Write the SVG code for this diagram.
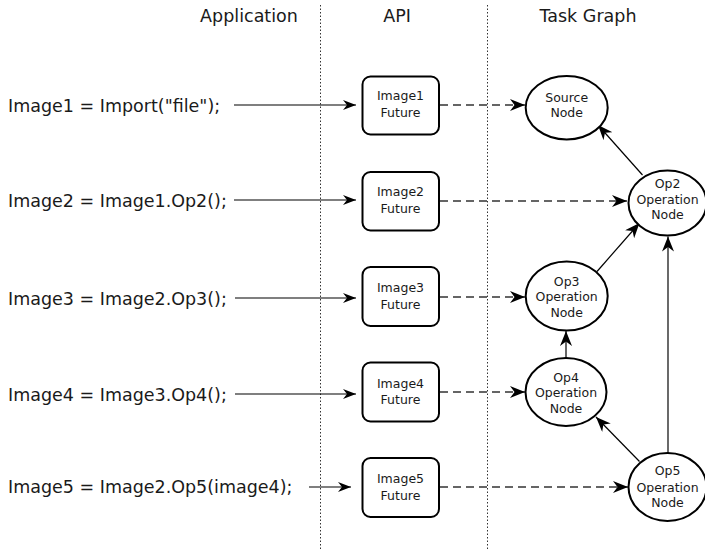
<svg xmlns="http://www.w3.org/2000/svg" width="705" height="554" viewBox="0 0 705 554">
<defs>
<style>
text{font-family:"DejaVu Sans","Liberation Sans",sans-serif;fill:#1a1a1a}
.hdr{font-size:17.5px;text-anchor:middle}
.code{font-size:17.5px}
.lbl{font-size:12.5px;text-anchor:middle}
.box{fill:#fff;stroke:#000;stroke-width:2}
.ell{fill:#fff;stroke:#000;stroke-width:2}
.sep{stroke:#333;stroke-width:1;stroke-dasharray:1.5,2;fill:none}
.call{stroke:#000;stroke-width:1.2;fill:none;marker-end:url(#ahS)}
.dash{stroke:#333;stroke-width:1.6;stroke-dasharray:8,5;fill:none;marker-end:url(#ahL)}
.dep{stroke:#000;stroke-width:1.2;fill:none;marker-end:url(#ahL)}
.dep2{stroke:#444;stroke-width:1.6;fill:none;marker-end:url(#ahL)}
</style>
<marker id="ahS" markerUnits="userSpaceOnUse" markerWidth="14" markerHeight="10" refX="13" refY="5" orient="auto">
<path d="M13,5 L0,0 L4,5 L0,10 Z" fill="#000" stroke="none"/>
</marker>
<marker id="ahL" markerUnits="userSpaceOnUse" markerWidth="16" markerHeight="12" refX="15" refY="6" orient="auto">
<path d="M15,6 L0,0 L4.5,6 L0,12 Z" fill="#000" stroke="none"/>
</marker>
</defs>
<rect width="705" height="554" fill="#fff"/>

<g id="separators">
<line class="sep" x1="320.5" y1="5" x2="320.5" y2="550"/>
<line class="sep" x1="487.5" y1="5" x2="487.5" y2="550"/>
</g>

<g id="headers">
<text class="hdr" x="249" y="22">Application</text>
<text class="hdr" x="397" y="22">API</text>
<text class="hdr" x="588" y="22">Task Graph</text>
</g>

<g id="code">
<text class="code" x="8" y="111.5">Image1 = Import("file");</text>
<text class="code" x="8" y="206.5">Image2 = Image1.Op2();</text>
<text class="code" x="8" y="304.5">Image3 = Image2.Op3();</text>
<text class="code" x="8" y="400.5">Image4 = Image3.Op4();</text>
<text class="code" x="8" y="493">Image5 = Image2.Op5(image4);</text>
</g>

<g id="connectors">
<line class="call" x1="234" y1="105" x2="356" y2="105"/>
<line class="call" x1="234" y1="200" x2="356" y2="200"/>
<line class="call" x1="235" y1="298" x2="356" y2="298"/>
<line class="call" x1="235" y1="394" x2="356" y2="394"/>
<line class="call" x1="309" y1="487" x2="351" y2="487"/>
<line class="dash" x1="440" y1="105" x2="525" y2="105"/>
<line class="dash" x1="440" y1="201" x2="627" y2="201"/>
<line class="dash" x1="440" y1="297" x2="525" y2="297"/>
<line class="dash" x1="440" y1="392" x2="525" y2="392"/>
<line class="dash" x1="440" y1="487" x2="628" y2="487"/>
<line class="dep" x1="642.5" y1="175" x2="598" y2="125"/>
<line class="dep" x1="597" y1="271.5" x2="639.5" y2="223"/>
<line class="dep" x1="566" y1="358" x2="566" y2="331"/>
<line class="dep" x1="639.5" y1="461.5" x2="596" y2="417"/>
<line class="dep2" x1="668" y1="453" x2="668" y2="236.5"/>
</g>

<g id="future1"><rect class="box" x="362.5" y="76.5" width="76.5" height="58" rx="8"/><text class="lbl" x="400.5" y="100">Image1</text><text class="lbl" x="400.5" y="117.3">Future</text></g>
<g id="future2"><rect class="box" x="362.5" y="172" width="76.5" height="58.5" rx="8"/><text class="lbl" x="400.5" y="196">Image2</text><text class="lbl" x="400.5" y="213">Future</text></g>
<g id="future3"><rect class="box" x="362.5" y="267" width="76.5" height="59" rx="8"/><text class="lbl" x="400.5" y="292">Image3</text><text class="lbl" x="400.5" y="308.5">Future</text></g>
<g id="future4"><rect class="box" x="362.5" y="362.5" width="76.5" height="59" rx="8"/><text class="lbl" x="400.5" y="387.5">Image4</text><text class="lbl" x="400.5" y="404">Future</text></g>
<g id="future5"><rect class="box" x="362.5" y="458" width="76.5" height="59" rx="8"/><text class="lbl" x="400.5" y="483">Image5</text><text class="lbl" x="400.5" y="499.5">Future</text></g>

<g id="source"><ellipse class="ell" cx="566.7" cy="107.7" rx="41" ry="31.7"/><text class="lbl" x="566.7" y="101.7">Source</text><text class="lbl" x="566.7" y="117.3">Node</text></g>
<g id="op2"><ellipse class="ell" cx="667.5" cy="203" rx="39" ry="32.5"/><text class="lbl" x="667.5" y="188.3">Op2</text><text class="lbl" x="667.5" y="204.3">Operation</text><text class="lbl" x="667.5" y="219.3">Node</text></g>
<g id="op3"><ellipse class="ell" cx="566.7" cy="296" rx="41" ry="34.5"/><text class="lbl" x="566.7" y="285.7">Op3</text><text class="lbl" x="566.7" y="301">Operation</text><text class="lbl" x="566.7" y="316.7">Node</text></g>
<g id="op4"><ellipse class="ell" cx="566" cy="392" rx="40.5" ry="34"/><text class="lbl" x="566" y="381.7">Op4</text><text class="lbl" x="566" y="397.3">Operation</text><text class="lbl" x="566" y="412.7">Node</text></g>
<g id="op5"><ellipse class="ell" cx="667.5" cy="487" rx="39" ry="34"/><text class="lbl" x="667.5" y="475">Op5</text><text class="lbl" x="667.5" y="491.7">Operation</text><text class="lbl" x="667.5" y="507">Node</text></g>
</svg>
